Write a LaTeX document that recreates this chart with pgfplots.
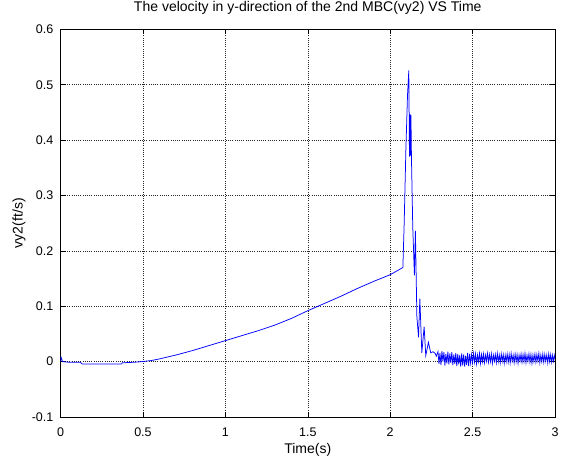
\documentclass[border=0pt]{standalone}
\usepackage{pgfplots}
\pgfplotsset{compat=1.18}
\usepackage{fontspec}
\setmainfont{Liberation Sans}
\begin{document}
\begin{tikzpicture}
\begin{axis}[name=ax,
  scale only axis, width=494pt, height=387.4pt,
  xmin=0, xmax=3, ymin=-0.1, ymax=0.6,
  xtick={0,0.5,1,1.5,2,2.5,3},
  ytick={-0.1,0,0.1,0.2,0.3,0.4,0.5,0.6},
  yticklabels={-0.1,0,0.1,0.2,0.3,0.4,0.5,0.6},
  xticklabels={0,0.5,1,1.5,2,2.5,3},
  /pgf/number format/assume math mode=true,
  tick align=inside, xtick pos=both, ytick pos=both,
  major tick length=5pt,
  tick style={black, line width=0.5pt},
  axis line style={black, line width=0.7pt},
  grid=major,
  major grid style={black!85, line width=0.5pt, dash pattern=on 0.8pt off 1.4pt},
  ticklabel style={font=\fontsize{12.5pt}{14pt}\selectfont},
  xticklabel style={anchor=base, inner sep=0pt, yshift=-19.5pt},
  yticklabel style={anchor=east, inner sep=0pt, xshift=-7pt},
  title={The velocity in y-direction of the 2nd MBC(vy2) VS Time},
  title style={at={(axis description cs:0.5,1)}, anchor=base, inner sep=0pt, yshift=12pt, font=\fontsize{14pt}{16pt}\selectfont},
  xlabel={Time(s)},
  xlabel style={at={(axis description cs:0.5,0)}, anchor=base, inner sep=0pt, yshift=-36.5pt, font=\fontsize{14pt}{16pt}\selectfont},
  ylabel={vy2(ft/s)},
  ylabel style={at={(axis description cs:0,0.5)}, anchor=center, inner sep=0pt, rotate=0, yshift=41.5pt, font=\fontsize{14pt}{16pt}\selectfont},
]
\addplot[blue, line width=0.75pt] coordinates {
(0,0) (0.003,0.008) (0.008,0.004) (0.012,0.000) (0.05,-0.001) (0.12,-0.001) (0.13,-0.004)
(0.25,-0.004) (0.37,-0.004) (0.375,-0.002) (0.45,-0.001) (0.49,0.000)
(0.55,0.002) (0.6,0.005) (0.7,0.012) (0.8,0.020) (0.9,0.029) (1.0,0.038)
(1.1,0.047) (1.2,0.056) (1.3,0.066) (1.4,0.078) (1.5,0.092) (1.6,0.105)
(1.7,0.118) (1.8,0.132) (1.9,0.145) (2.0,0.157) (2.077,0.170)
(2.085,0.25) (2.095,0.38) (2.105,0.48) (2.113,0.526) (2.117,0.370)
(2.120,0.447) (2.123,0.372) (2.126,0.445) (2.129,0.370) (2.137,0.243)
(2.147,0.156) (2.153,0.236) (2.162,0.081) (2.172,0.044) (2.180,0.114)
(2.192,0.016) (2.206,0.063) (2.216,0.011) (2.232,0.035) (2.246,0.016)
(2.260,0.018) (2.273,0.015) (2.280,0.010)
(2.290,0.018) (2.296,-0.004) (2.302,0.016) (2.308,-0.006) (2.314,0.019)
(2.320,0.000) (2.326,0.017) (2.332,-0.007) (2.338,0.014) (2.344,-0.003)
(2.350,0.018) (2.356,-0.005) (2.362,0.015) (2.368,-0.002) (2.374,0.017)
(2.380,-0.006) (2.386,0.013) (2.392,-0.004) (2.398,0.016) (2.404,-0.008)
(2.410,0.014) (2.416,-0.005) (2.422,0.012) (2.428,-0.009) (2.434,0.015)
(2.440,-0.007) (2.446,0.013) (2.452,-0.009) (2.458,0.011) (2.464,-0.006)
(2.470,0.016) (2.476,-0.008) (2.482,0.014) (2.488,-0.003) (2.494,0.013)
(2.500,-0.002) (2.506,0.015) (2.512,-0.001) (2.518,0.014) (2.524,-0.004)
(2.530,0.012) (2.536,0.000) (2.542,0.015) (2.548,-0.003) (2.554,0.013)
(2.560,0.000) (2.566,0.014) (2.572,-0.002) (2.578,0.012) (2.584,0.001)
(2.590,0.015) (2.596,-0.001) (2.602,0.013) (2.608,0.000) (2.614,0.014)
(2.620,-0.003) (2.626,0.012) (2.632,0.001) (2.638,0.013) (2.644,-0.002)
(2.650,0.015) (2.656,0.000) (2.662,0.012) (2.668,-0.002) (2.674,0.014)
(2.680,0.001) (2.686,0.013) (2.692,-0.003) (2.698,0.012) (2.704,0.000)
(2.710,0.014) (2.716,-0.001) (2.722,0.013) (2.728,-0.002) (2.734,0.015)
(2.740,0.001) (2.746,0.012) (2.752,-0.002) (2.758,0.014) (2.764,0.000)
(2.770,0.013) (2.776,-0.003) (2.782,0.012) (2.788,0.001) (2.794,0.014)
(2.800,-0.001) (2.806,0.013) (2.812,0.000) (2.818,0.015) (2.824,-0.002)
(2.830,0.012) (2.836,0.001) (2.842,0.014) (2.848,-0.001) (2.854,0.013)
(2.860,-0.003) (2.866,0.012) (2.872,0.000) (2.878,0.014) (2.884,-0.001)
(2.890,0.013) (2.896,0.001) (2.902,0.015) (2.908,-0.002) (2.914,0.012)
(2.920,0.000) (2.926,0.014) (2.932,-0.001) (2.938,0.013) (2.944,0.001)
(2.950,0.012) (2.956,-0.002) (2.962,0.014) (2.968,0.000) (2.974,0.013)
(2.980,-0.001) (2.986,0.012) (2.992,0.001) (2.998,0.011) (3.0,0.006)
};
\end{axis}
\pgfresetboundingbox
\path (ax.south west) ++(-60.5pt,-47.3pt) coordinate (bl);
\path (ax.north east) ++(9pt,29.3pt) coordinate (tr);
\useasboundingbox (bl) rectangle (tr);
\end{tikzpicture}
\end{document}
